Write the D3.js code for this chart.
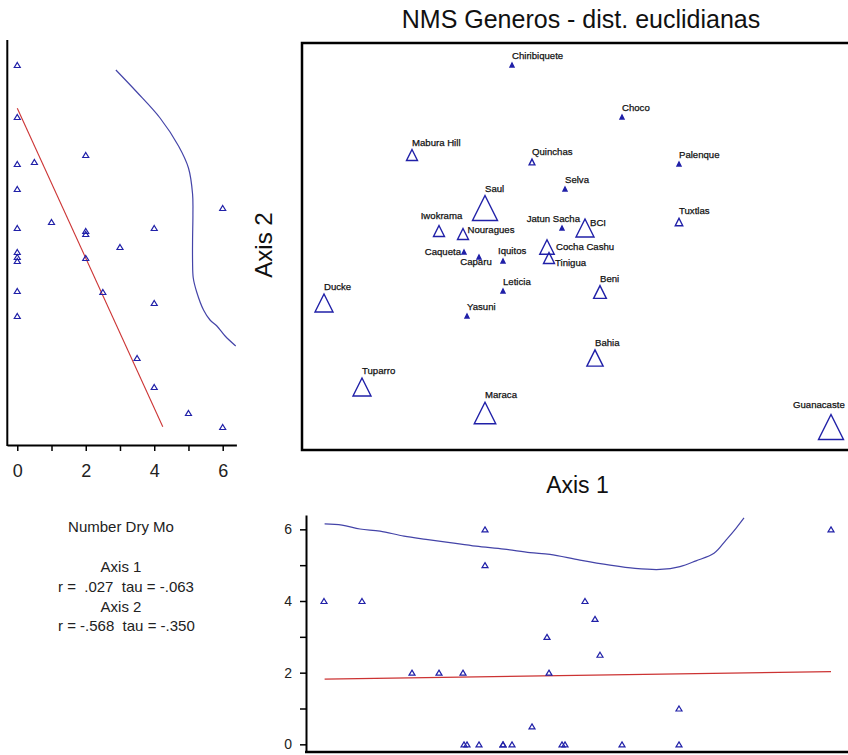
<!DOCTYPE html>
<html>
<head>
<meta charset="utf-8">
<script src="https://cdn.jsdelivr.net/npm/d3@7"></script>
<style>
body { margin: 0; background: #fff; }
svg { display: block; font-family: Arial, "Liberation Sans", sans-serif; }
</style>
</head>
<body>
<svg id="drawing_region"></svg>
<script>
// sites of the NMS ordination (scores) + overlay variable
const sites = ['Chiribiquete','Choco','Mabura Hill','Quinchas','Palenque','Selva','Saul','Tuxtlas',
    'Jatun Sacha','BCI','Iwokrama','Nouragues','Cocha Cashu','Caqueta','Caparu','Tinigua','Iquitos',
    'Leticia','Beni','Ducke','Yasuni','Bahia','Tuparro','Maraca','Guanacaste'];
const axis1 = [0.06, 0.61, -0.44, 0.16, 0.895, 0.325, -0.075, 0.895, 0.31, 0.425, -0.305, -0.185, 0.235,
    -0.18, -0.105, 0.245, 0.015, 0.015, 0.5, -0.88, -0.165, 0.475, -0.69, -0.075, 1.655];
const axis2 = [0.925, 0.665, 0.475, 0.44, 0.43, 0.305, 0.21, 0.14, 0.11, 0.11, 0.095, 0.08, 0.015,
    -0.01, -0.035, -0.04, -0.055, -0.205, -0.21, -0.265, -0.33, -0.54, -0.685, -0.815, -0.885];
const dryMonths = [0, 0, 2, 0.5, 0, 0, 6, 1, 0, 4, 2, 2, 3, 0, 0, 2, 0, 0, 2.5, 4, 0, 3.5, 4, 5, 6];

// left panel: Number Dry Mo vs Axis 2
const leftFitDry = [0, 4.25];
const leftFitAxis2 = [0.7085, -0.8835];
const leftCurveDry = [2.88, 3.49, 4.17, 4.71, 5.00, 5.12, 5.13, 5.12, 5.12, 5.14, 5.24, 5.44, 5.63, 5.83, 6.07, 6.38];
const leftCurveAxis2 = [0.90, 0.79, 0.66, 0.52, 0.41, 0.28, 0.175, 0.05, -0.06, -0.14, -0.21, -0.30, -0.35, -0.38, -0.43, -0.48];

// bottom panel: Axis 1 vs Number Dry Mo
const bottomFitAxis1 = [-0.877, 1.655];
const bottomFitDry = [1.82, 2.03];
const bottomCurveAxis1 = [-0.877, -0.79, -0.70, -0.60, -0.48, -0.37, -0.25, -0.12, 0.02, 0.15, 0.25, 0.40,
    0.55, 0.675, 0.80, 0.90, 0.98, 1.07, 1.13, 1.18, 1.22];
const bottomCurveDry = [6.15, 6.12, 6.01, 5.95, 5.81, 5.72, 5.63, 5.53, 5.45, 5.35, 5.30, 5.14,
    5.00, 4.91, 4.88, 4.96, 5.12, 5.33, 5.70, 6.03, 6.32];

const dryTicks = [0, 1, 2, 3, 4, 5, 6];
const dryTickLabels = ['0', '', '2', '', '4', '', '6'];

const titleText = 'NMS Generos - dist. euclidianas';
const statLines = ['Number Dry Mo', '', 'Axis 1', 'r =  .027  tau = -.063', 'Axis 2', 'r = -.568  tau = -.350'];

// label placement tweaks (where the label is not just above the marker)
const labelPlace = {
    'Nouragues':   {dx: 4.5,  dy: -1.5, anchor: 'start'},
    'BCI':         {dx: 5,    dy: -2.5, anchor: 'start'},
    'Cocha Cashu': {dx: 9,    dy: 3,    anchor: 'start'},
    'Tinigua':     {dx: 6,    dy: 8,    anchor: 'start'},
    'Caqueta':     {dx: -3,   dy: 3,    anchor: 'end'},
    'Caparu':      {dx: -3,   dy: 8,    anchor: 'middle'},
    'Iquitos':     {dx: -5,   dy: -7.5, anchor: 'start'},
    'Jatun Sacha': {dx: -8.7, dy: -6,   anchor: 'middle'},
    'Guanacaste':  {dx: -38,  dy: -19,  anchor: 'start'},
    'Iwokrama':    {dx: 2.5,  dy: -12,  anchor: 'middle'}
};

const data = sites.map((s, i) => ({name: s, a1: axis1[i], a2: axis2[i], dry: dryMonths[i]}));

const W = 848, H = 755;
const BLUE = '#2020a8', CURVE = '#4444a8', RED = '#cc3333';

const svg = d3.select('#drawing_region')
    .attr('width', W)
    .attr('height', H);

// shared scales
const xscale = d3.scaleLinear().domain([-0.99, 1.76]).range([302, 852]);
const yscale = d3.scaleLinear().domain([1.035, -1.0]).range([43, 450]);
const dryX = d3.scaleLinear().domain([-0.3, 6.4]).range([7, 236.4]);
const dryY = d3.scaleLinear().domain([-0.2, 6.4]).range([751.5, 515]);
const size = d3.scaleLinear().domain([0, 6]).range([4, 25]);

const tri = (w, h) => `M0,${-h/2}L${w/2},${h/2}L${-w/2},${h/2}Z`;

// ---- main ordination ----
svg.append('text')
    .attr('x', 581).attr('y', 28)
    .attr('text-anchor', 'middle')
    .attr('font-size', '25px')
    .attr('fill', '#111')
    .text(titleText);

svg.append('rect')
    .attr('x', xscale.range()[0]).attr('y', yscale.range()[0])
    .attr('width', xscale.range()[1] - xscale.range()[0])
    .attr('height', yscale.range()[1] - yscale.range()[0])
    .attr('fill', 'none')
    .attr('stroke', '#000')
    .attr('stroke-width', 2.5);

svg.append('text')
    .attr('transform', 'translate(271.5, 245) rotate(-90)')
    .attr('text-anchor', 'middle')
    .attr('font-size', '24px')
    .attr('fill', '#111')
    .text('Axis 2');

svg.append('text')
    .attr('x', 577.5).attr('y', 493)
    .attr('text-anchor', 'middle')
    .attr('font-size', '23px')
    .attr('fill', '#111')
    .text('Axis 1');

const main = svg.append('g');

main.selectAll('path.site')
    .data(data)
    .enter()
    .append('path')
    .attr('class', 'site')
    .attr('transform', d => `translate(${xscale(d.a1)}, ${yscale(d.a2)})`)
    .attr('d', d => tri(size(d.dry), size(d.dry)))
    .attr('fill', d => d.dry === 0 ? BLUE : 'none')
    .attr('stroke', BLUE)
    .attr('stroke-width', 1.4);

main.selectAll('text.site')
    .data(data)
    .enter()
    .append('text')
    .attr('class', 'site')
    .attr('font-size', '9.6px')
    .attr('fill', '#111')
    .attr('stroke', '#111')
    .attr('stroke-width', 0.25)
    .attr('x', d => xscale(d.a1) + (labelPlace[d.name] ? labelPlace[d.name].dx : 0))
    .attr('y', d => yscale(d.a2) + (labelPlace[d.name] ? labelPlace[d.name].dy : -size(d.dry) / 2 - 4))
    .attr('text-anchor', d => labelPlace[d.name] ? labelPlace[d.name].anchor : 'start')
    .text(d => d.name);

// ---- left panel: dry months vs axis 2 ----
const left = svg.append('g');

left.append('line')
    .attr('x1', 7.3).attr('x2', 7.3)
    .attr('y1', 40).attr('y2', 446)
    .attr('stroke', '#000').attr('stroke-width', 2);

const leftAxis = d3.axisBottom(dryX)
    .tickValues(dryTicks)
    .tickFormat((d, i) => dryTickLabels[i])
    .tickSize(6)
    .tickSizeOuter(0);

const leftAxisG = left.append('g')
    .attr('transform', 'translate(0, 445)')
    .call(leftAxis);
leftAxisG.select('.domain').attr('stroke-width', 2);
leftAxisG.selectAll('.tick line').attr('stroke-width', 1.5);
leftAxisG.selectAll('.tick text')
    .attr('y', 32).attr('dy', 0)
    .attr('font-family', '"Liberation Sans Narrow", Arial, sans-serif')
    .attr('font-size', '18px')
    .attr('fill', '#222');

const leftLine = d3.line()
    .x(d => dryX(d[0]))
    .y(d => yscale(d[1]));

left.append('path')
    .attr('d', leftLine(d3.zip(leftFitDry, leftFitAxis2)))
    .attr('fill', 'none')
    .attr('stroke', RED)
    .attr('stroke-width', 1.1);

left.append('path')
    .attr('d', leftLine.curve(d3.curveCatmullRom)(d3.zip(leftCurveDry, leftCurveAxis2)))
    .attr('fill', 'none')
    .attr('stroke', CURVE)
    .attr('stroke-width', 1.2);

left.selectAll('path.pt')
    .data(data)
    .enter()
    .append('path')
    .attr('class', 'pt')
    .attr('transform', d => `translate(${dryX(d.dry)}, ${yscale(d.a2)})`)
    .attr('d', tri(6, 5))
    .attr('fill', 'none')
    .attr('stroke', BLUE)
    .attr('stroke-width', 1.2);

// ---- bottom panel: axis 1 vs dry months ----
const bottom = svg.append('g');

bottom.append('line')
    .attr('x1', 305).attr('x2', W)
    .attr('y1', 752).attr('y2', 752)
    .attr('stroke', '#000').attr('stroke-width', 2.5);

const bottomAxis = d3.axisLeft(dryY)
    .tickValues(dryTicks)
    .tickFormat((d, i) => dryTickLabels[i])
    .tickSize(6)
    .tickPadding(8)
    .tickSizeOuter(0);

const bottomAxisG = bottom.append('g')
    .attr('transform', 'translate(306, 0)')
    .call(bottomAxis);
bottomAxisG.select('.domain').attr('stroke-width', 2);
bottomAxisG.selectAll('.tick line').attr('stroke-width', 1.5);
bottomAxisG.selectAll('.tick text')
    .attr('font-family', 'Arial, "Liberation Sans", sans-serif')
    .attr('font-size', '14px')
    .attr('fill', '#222');

const bottomLine = d3.line()
    .x(d => xscale(d[0]))
    .y(d => dryY(d[1]));

bottom.append('path')
    .attr('d', bottomLine(d3.zip(bottomFitAxis1, bottomFitDry)))
    .attr('fill', 'none')
    .attr('stroke', RED)
    .attr('stroke-width', 1.1);

bottom.append('path')
    .attr('d', bottomLine.curve(d3.curveCatmullRom)(d3.zip(bottomCurveAxis1, bottomCurveDry)))
    .attr('fill', 'none')
    .attr('stroke', CURVE)
    .attr('stroke-width', 1.2);

bottom.selectAll('path.pt')
    .data(data)
    .enter()
    .append('path')
    .attr('class', 'pt')
    .attr('transform', d => `translate(${xscale(d.a1)}, ${dryY(d.dry)})`)
    .attr('d', tri(6, 5))
    .attr('fill', 'none')
    .attr('stroke', BLUE)
    .attr('stroke-width', 1.2);

// ---- correlation text ----
svg.append('g')
    .selectAll('text')
    .data(statLines)
    .enter()
    .append('text')
    .attr('font-size', '15px')
    .attr('fill', '#222')
    .style('white-space', 'pre')
    .attr('x', d => d.startsWith('r =') ? 58 : 121)
    .attr('text-anchor', d => d.startsWith('r =') ? 'start' : 'middle')
    .attr('y', (d, i) => [531.7, 551.7, 571.7, 591.7, 611.7, 630.7][i])
    .text(d => d);
</script>
</body>
</html>
